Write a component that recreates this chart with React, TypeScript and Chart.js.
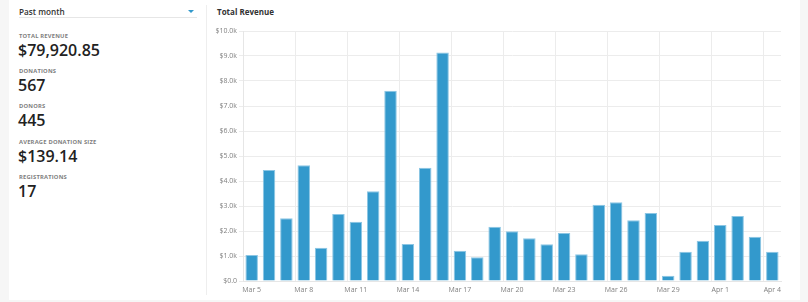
import React, { useEffect, useRef } from "react";
import { Chart, registerables } from "chart.js";

Chart.register(...registerables);

const dayLabels = [
  "Mar 5", "Mar 6", "Mar 7", "Mar 8", "Mar 9", "Mar 10", "Mar 11", "Mar 12", "Mar 13", "Mar 14",
  "Mar 15", "Mar 16", "Mar 17", "Mar 18", "Mar 19", "Mar 20", "Mar 21", "Mar 22", "Mar 23", "Mar 24",
  "Mar 25", "Mar 26", "Mar 27", "Mar 28", "Mar 29", "Mar 30", "Mar 31", "Apr 1", "Apr 2", "Apr 3", "Apr 4",
];

const revenueValues = [
  1040, 4440, 2510, 4630, 1330, 2680, 2370, 3590, 7610, 1480,
  4530, 9140, 1210, 950, 2170, 1990, 1710, 1470, 1920, 1070,
  3050, 3150, 2430, 2720, 210, 1170, 1610, 2240, 2600, 1770, 1170,
];

const stats = [
  { label: "TOTAL REVENUE", value: "$79,920.85" },
  { label: "DONATIONS", value: "567" },
  { label: "DONORS", value: "445" },
  { label: "AVERAGE DONATION SIZE", value: "$139.14" },
  { label: "REGISTRATIONS", value: "17" },
];

const FONT = "'Open Sans', 'DejaVu Sans', sans-serif";

function RevenueChart() {
  const ref = useRef<HTMLCanvasElement | null>(null);
  useEffect(() => {
    if (!ref.current) return;
    const chart = new Chart(ref.current, {
      type: "bar",
      data: {
        labels: dayLabels,
        datasets: [
          {
            data: revenueValues,
            backgroundColor: "#3399cc",
            borderColor: "#8cc6e4",
            borderWidth: 1,
          },
        ],
      },
      options: {
        animation: false,
        responsive: false,
        maintainAspectRatio: false,
        layout: { padding: { top: 11, right: 6, left: 0, bottom: 0 } },
        plugins: { legend: { display: false }, tooltip: { enabled: false }, title: { display: false } },
        scales: {
          x: {
            offset: true,
            grid: {
              offset: true,
              drawTicks: false,
              color: (ctx: any) => (ctx.index % 3 === 0 ? "#ececec" : "rgba(0,0,0,0)"),
            },
            border: { color: "#e6e6e6" },
            ticks: {
              autoSkip: false,
              maxRotation: 0,
              padding: 5,
              color: "#808080",
              font: { family: FONT, size: 7 },
              callback: (_v: any, i: number) => (i % 3 === 0 ? dayLabels[i] : ""),
            },
            afterFit: (s: any) => {
              s.height = 19;
            },
          },
          y: {
            min: 0,
            max: 10000,
            grid: { color: "#ececec", tickLength: 4 },
            border: { color: "#e6e6e6" },
            ticks: {
              stepSize: 1000,
              padding: 2,
              color: "#808080",
              font: { family: FONT, size: 7 },
              callback: (v: any) => (v === 0 ? "$0.0" : "$" + (Number(v) / 1000).toFixed(1) + "k"),
            },
            afterFit: (s: any) => {
              s.width = 36;
            },
          },
        },
      },
    });
    return () => chart.destroy();
  }, []);
  return (
    <canvas
      ref={ref}
      width={580}
      height={280}
      style={{ position: "absolute", left: 207, top: 20, width: 580, height: 280 }}
    />
  );
}

export default function App() {
  return (
    <div
      style={{
        position: "fixed",
        left: 0,
        top: 0,
        width: 808,
        height: 302,
        background: "#f6f6f6",
        fontFamily: FONT,
        overflow: "hidden",
      }}
    >
      <div style={{ position: "absolute", left: 9, top: 0, width: 791, height: 300, background: "#ffffff" }} />
      <div style={{ position: "absolute", left: 206, top: 5, width: 1, height: 290, background: "#eeeeee" }} />
      <div
        style={{
          position: "absolute",
          left: 19,
          top: 5,
          fontSize: 8.2,
          lineHeight: "14px",
          fontWeight: 600,
          color: "#333",
        }}
      >
        Past month
      </div>
      <div style={{ position: "absolute", left: 19, top: 17, width: 178, height: 1, background: "#e6e6e6" }} />
      <div
        style={{
          position: "absolute",
          left: 188,
          top: 10,
          width: 0,
          height: 0,
          borderLeft: "3px solid transparent",
          borderRight: "3px solid transparent",
          borderTop: "3px solid #3399cc",
        }}
      />
      {stats.map((s, i) => (
        <React.Fragment key={s.label}>
          <div
            style={{
              position: "absolute",
              left: 19,
              top: 31.5 + i * 35.4,
              fontSize: 5.8,
              lineHeight: "9px",
              fontWeight: 700,
              letterSpacing: 0.2,
              color: "#808080",
              whiteSpace: "nowrap",
            }}
          >
            {s.label}
          </div>
          <div
            style={{
              position: "absolute",
              left: 18,
              top: 39.5 + i * 35.4,
              fontSize: 16,
              lineHeight: "20px",
              fontWeight: 600,
              color: "#222",
              whiteSpace: "nowrap",
            }}
          >
            {s.value}
          </div>
        </React.Fragment>
      ))}
      <div
        style={{
          position: "absolute",
          left: 217,
          top: 5,
          fontSize: 8,
          lineHeight: "14px",
          fontWeight: 700,
          color: "#333",
        }}
      >
        Total Revenue
      </div>
      <RevenueChart />
    </div>
  );
}
